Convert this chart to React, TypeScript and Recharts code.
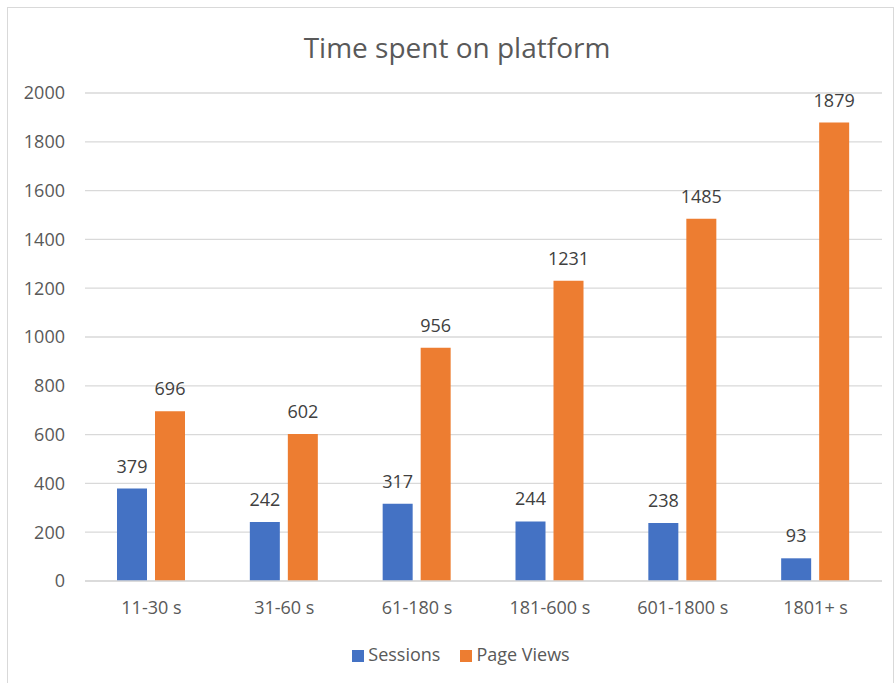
import { BarChart, Bar, XAxis, YAxis, CartesianGrid, Legend, LabelList } from 'recharts';

const categories = ['11-30 s', '31-60 s', '61-180 s', '181-600 s', '601-1800 s', '1801+ s'];
const seriesNames = ['Sessions', 'Page Views'];
const sessions = [379, 242, 317, 244, 238, 93];
const pageViews = [696, 602, 956, 1231, 1485, 1879];
const yTicks = [0, 200, 400, 600, 800, 1000, 1200, 1400, 1600, 1800, 2000];

const chartData = categories.map((name, i) => ({
  name,
  sessions: sessions[i],
  pageViews: pageViews[i],
}));

const font = '"Open Sans", "Noto Sans", sans-serif';

export default function App() {
  return (
    <div style={{ position: 'absolute', left: 0, top: 0, width: 896, height: 683, background: '#fff', fontFamily: font }}>
      <div
        style={{
          position: 'absolute',
          left: 7,
          top: 7,
          width: 887,
          height: 690,
          border: '1px solid #D9D9D9',
          boxSizing: 'border-box',
        }}
      />
      <div
        style={{
          position: 'absolute',
          left: 0,
          width: 914,
          top: 27,
          textAlign: 'center',
          fontSize: 28,
          color: '#595959',
          lineHeight: '40px',
        }}
      >
        Time spent on platform
      </div>
      <div style={{ position: 'absolute', left: 0, top: 0 }}>
        <BarChart
          width={896}
          height={683}
          data={chartData}
          margin={{ top: 93, right: 14, bottom: 0, left: 0 }}
          barGap={8}
          barSize={30}
        >
          <CartesianGrid vertical={false} stroke="#D9D9D9" strokeWidth={1.3} />
          <XAxis
            dataKey="name"
            axisLine={{ stroke: '#D9D9D9', strokeWidth: 1.3 }}
            tickLine={false}
            tickSize={0}
            tickMargin={20}
            height={50}
            tick={{ fill: '#595959', fontSize: 18, fontFamily: font }}
          />
          <YAxis
            domain={[0, 2000]}
            ticks={yTicks}
            axisLine={false}
            tickLine={false}
            tickSize={0}
            tickMargin={20}
            width={85}
            tick={{ fill: '#595959', fontSize: 18, fontFamily: font }}
          />
          <Legend
            verticalAlign="bottom"
            iconType="square"
            iconSize={12}
            itemSorter={(item: any) => seriesNames.indexOf(item.value)}
            wrapperStyle={{
              paddingLeft: 60,
              paddingTop: 11,
              boxSizing: 'border-box',
              fontSize: 18,
              fontFamily: font,
              height: 52,
              lineHeight: '24px',
            }}
            formatter={(value: string) => <span style={{ color: '#595959', marginRight: 10 }}>{value}</span>}
          />
          <Bar dataKey="sessions" name={seriesNames[0]} fill="#4472C4" isAnimationActive={false}>
            <LabelList dataKey="sessions" position="top" offset={16} fill="#404040" fontSize={18} fontFamily={font} />
          </Bar>
          <Bar dataKey="pageViews" name={seriesNames[1]} fill="#ED7D31" isAnimationActive={false}>
            <LabelList dataKey="pageViews" position="top" offset={16} fill="#404040" fontSize={18} fontFamily={font} />
          </Bar>
        </BarChart>
      </div>
    </div>
  );
}
